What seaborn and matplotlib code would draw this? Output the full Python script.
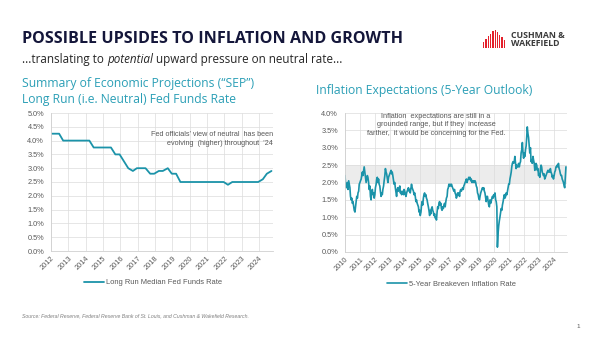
import matplotlib
matplotlib.use("Agg")
import matplotlib.pyplot as plt
from matplotlib.ticker import MultipleLocator, FuncFormatter
from matplotlib.patches import Rectangle
import seaborn as sns
import pandas as pd

# ---------------- data ----------------
sep_dates = ["2012-01-25", "2012-04-25", "2012-06-20", "2012-09-13", "2012-12-12",
             "2013-03-20", "2013-06-19", "2013-09-18", "2013-12-18",
             "2014-03-19", "2014-06-18", "2014-09-17", "2014-12-17",
             "2015-03-18", "2015-06-17", "2015-09-17", "2015-12-16",
             "2016-03-16", "2016-06-15", "2016-09-21", "2016-12-14",
             "2017-03-15", "2017-06-14", "2017-09-20", "2017-12-13",
             "2018-03-21", "2018-06-13", "2018-09-26", "2018-12-19",
             "2019-03-20", "2019-06-19", "2019-09-18", "2019-12-11",
             "2020-06-10", "2020-09-16", "2020-12-16",
             "2021-03-17", "2021-06-16", "2021-09-22", "2021-12-15",
             "2022-03-16", "2022-06-15", "2022-09-21", "2022-12-14",
             "2023-03-22", "2023-06-14", "2023-09-20", "2023-12-13",
             "2024-03-20", "2024-06-12", "2024-09-18"]
sep_values = [4.25, 4.25, 4.25, 4.0, 4.0,
              4.0, 4.0, 4.0, 4.0,
              4.0, 3.75, 3.75, 3.75,
              3.75, 3.75, 3.5, 3.5,
              3.25, 3.0, 2.9, 3.0,
              3.0, 3.0, 2.8, 2.8,
              2.9, 2.9, 3.0, 2.8,
              2.8, 2.5, 2.5, 2.5,
              2.5, 2.5, 2.5,
              2.5, 2.5, 2.5, 2.5,
              2.4, 2.5, 2.5, 2.5,
              2.5, 2.5, 2.5, 2.5,
              2.6, 2.8, 2.9]

# 5-year breakeven inflation rate, semi-monthly readings (1st and 15th)
be_2010 = [2.2, 1.95, 1.85, 1.9, 2.0, 1.8, 2.05, 1.95, 1.85, 1.6, 1.5, 1.55,
           1.4, 1.45, 1.3, 1.2, 1.15, 1.3, 1.45, 1.6, 1.55, 1.7, 1.75, 1.95]
be_2011 = [2.0, 2.05, 2.1, 2.2, 2.3, 2.2, 2.35, 2.45, 2.3, 2.15, 2.0, 2.1,
           2.2, 2.15, 2.0, 1.8, 1.9, 1.6, 1.5, 1.75, 1.8, 1.65, 1.7, 1.55]
be_2012 = [1.65, 1.85, 1.95, 2.1, 2.15, 2.0, 2.1, 1.95, 1.9, 1.75, 1.6, 1.7,
           1.65, 1.8, 1.9, 2.05, 2.2, 2.4, 2.3, 2.25, 2.1, 2.0, 2.15, 2.2]
be_2013 = [2.25, 2.3, 2.35, 2.25, 2.3, 2.2, 2.05, 1.95, 2.0, 1.85, 1.7, 1.6,
           1.8, 1.85, 1.75, 1.8, 1.9, 1.7, 1.75, 1.65, 1.7, 1.75, 1.65, 1.8]
be_2014 = [1.75, 1.65, 1.6, 1.7, 1.75, 1.8, 1.85, 1.75, 1.8, 1.7, 1.85, 1.95,
           1.85, 1.8, 1.75, 1.65, 1.7, 1.6, 1.45, 1.5, 1.4, 1.35, 1.3, 1.15]
be_2015 = [1.2, 1.05, 1.15, 1.35, 1.45, 1.35, 1.55, 1.65, 1.7, 1.6, 1.65, 1.55,
           1.5, 1.4, 1.3, 1.2, 1.05, 1.2, 1.1, 1.25, 1.3, 1.2, 1.15, 1.05]
be_2016 = [1.1, 0.98, 1.0, 0.92, 1.15, 1.3, 1.25, 1.4, 1.45, 1.35, 1.4, 1.25,
           1.2, 1.3, 1.25, 1.35, 1.4, 1.3, 1.45, 1.55, 1.6, 1.8, 1.85, 1.95]
be_2017 = [1.9, 1.95, 1.9, 1.95, 1.9, 1.85, 1.8, 1.75, 1.8, 1.7, 1.65, 1.55,
           1.6, 1.7, 1.65, 1.7, 1.6, 1.75, 1.8, 1.75, 1.8, 1.85, 1.8, 1.9]
be_2018 = [1.95, 2.0, 2.05, 2.1, 2.0, 2.05, 2.1, 2.15, 2.1, 2.15, 2.05, 2.1,
           2.0, 2.05, 2.0, 2.05, 2.0, 2.05, 2.0, 1.9, 1.85, 1.7, 1.65, 1.55]
be_2019 = [1.5, 1.6, 1.7, 1.75, 1.8, 1.85, 1.8, 1.85, 1.75, 1.7, 1.55, 1.45,
           1.6, 1.6, 1.45, 1.35, 1.3, 1.5, 1.4, 1.45, 1.55, 1.6, 1.55, 1.65]
be_2020 = [1.6, 1.7, 1.5, 1.45, 1.3, 0.14, 0.55, 0.75, 0.9, 1.0, 1.15, 1.25,
           1.2, 1.35, 1.45, 1.55, 1.65, 1.55, 1.6, 1.7, 1.65, 1.75, 1.85, 1.95]
be_2021 = [1.95, 2.1, 2.2, 2.3, 2.45, 2.55, 2.6, 2.55, 2.6, 2.75, 2.55, 2.4,
           2.5, 2.45, 2.45, 2.55, 2.45, 2.55, 2.6, 2.85, 2.95, 3.15, 2.85, 2.7]
be_2022 = [2.85, 2.75, 2.95, 3.05, 3.3, 3.6, 3.4, 3.3, 3.05, 2.85, 3.0, 2.6,
           2.65, 2.55, 2.75, 2.65, 2.55, 2.35, 2.4, 2.55, 2.5, 2.35, 2.4, 2.2]
be_2023 = [2.25, 2.15, 2.4, 2.5, 2.45, 2.3, 2.25, 2.2, 2.25, 2.1, 2.15, 2.2,
           2.25, 2.3, 2.35, 2.3, 2.35, 2.3, 2.4, 2.3, 2.25, 2.15, 2.2, 2.1]
be_2024 = [2.2, 2.3, 2.35, 2.45, 2.45, 2.5, 2.45, 2.55, 2.4, 2.35, 2.25, 2.2,
           2.2, 2.1, 2.05, 2.0, 1.9, 1.85, 2.2, 2.45]

left_years = list(range(2012, 2025))
right_years = list(range(2010, 2025))

title = "POSSIBLE UPSIDES TO INFLATION AND GROWTH"
left_title = ["Summary of Economic Projections (\u201cSEP\u201d)",
              "Long Run (i.e. Neutral) Fed Funds Rate"]
right_title = "Inflation Expectations (5-Year Outlook)"
left_note = "Fed officials\u2019 view of neutral  has been\nevolving  (higher) throughout  \u201924"
right_note = ("Inflation  expectations are still in a\n"
              "grounded range, but if they  increase\n"
              "farther,  it would be concerning for the Fed.")
left_series = "Long Run Median Fed Funds Rate"
right_series = "5-Year Breakeven Inflation Rate"
source = "Source: Federal Reserve, Federal Reserve Bank of St. Louis, and Cushman & Wakefield Research."

# ---------------- frames ----------------
sep_df = pd.DataFrame({"date": pd.to_datetime(sep_dates), "value": sep_values,
                       "series": left_series})
be_values = (be_2010 + be_2011 + be_2012 + be_2013 + be_2014 + be_2015 + be_2016 +
             be_2017 + be_2018 + be_2019 + be_2020 + be_2021 + be_2022 + be_2023 + be_2024)
be_df = pd.DataFrame({"date": pd.date_range("2010-01-01", periods=len(be_values), freq="SMS"),
                      "value": be_values, "series": right_series})

# ---------------- style ----------------
sns.set_theme(style="white")
plt.rcParams["font.family"] = ["Liberation Sans", "DejaVu Sans"]

W, H = 600, 338
fig = plt.figure(figsize=(6.0, 3.38), dpi=100)
fig.patch.set_facecolor("white")

def fx(px):
    return px / W

def fy(py):
    return 1 - py / H

TEAL = "#2B9FB6"
LINE = "#1B93A9"
GRAY = "#595959"
GRID = "#dcdcdc"
HEAD = ["Open Sans", "DejaVu Sans"]

# header
fig.text(fx(22), fy(39), title, fontsize=11.6, fontweight="bold", color="#14163A",
         family=HEAD, va="center", ha="left")

renderer = fig.canvas.get_renderer()
parts = [("...translating to ", "normal"), ("potential", "italic"),
         (" upward pressure on neutral rate...", "normal")]
xpos = fx(22)
for s, st in parts:
    t = fig.text(xpos, fy(59), s, fontsize=8.4, style=st, color="#262626",
                 family=HEAD, va="center", ha="left")
    bb = t.get_window_extent(renderer=renderer)
    xpos = xpos + bb.width / (fig.dpi * fig.get_figwidth())

# logo
logo = fig.add_axes([fx(483), fy(48), fx(23), 18 / H])
logo_heights = [0.35, 0.5, 0.65, 0.8, 0.95, 1.0, 0.9, 0.75, 0.6, 0.45]
for i, h in enumerate(logo_heights):
    logo.add_patch(Rectangle((i, 0), 0.6, h, color="#E4202B", lw=0))
logo.set_xlim(0, len(logo_heights))
logo.set_ylim(0, 1)
logo.axis("off")
fig.text(fx(511), fy(35), "CUSHMAN &", fontsize=6.3, fontweight="bold", color="#3a3a3a",
         family=HEAD, va="center", ha="left")
fig.text(fx(511), fy(44), "WAKEFIELD", fontsize=6.3, fontweight="bold", color="#3a3a3a",
         family=HEAD, va="center", ha="left")

# chart titles
fig.text(fx(22), fy(84), left_title[0], fontsize=8.7, color=TEAL,
         family=HEAD, va="center", ha="left")
fig.text(fx(22), fy(99), left_title[1], fontsize=8.7, color=TEAL,
         family=HEAD, va="center", ha="left")
fig.text(fx(316), fy(91), right_title, fontsize=8.7, color=TEAL,
         family=HEAD, va="center", ha="left")

# footer
fig.text(fx(22), fy(316), source, fontsize=3.7, style="italic", color="#7f7f7f",
         va="center", ha="left")
fig.text(fx(578), fy(327), "1", fontsize=4.5, color="#595959", va="center", ha="center")


def style_axis(ax, years, ymax, xlim):
    ax.set_xlim(pd.Timestamp(xlim[0]), pd.Timestamp(xlim[1]))
    ax.set_ylim(0, ymax)
    ax.yaxis.set_major_locator(MultipleLocator(0.5))
    ax.yaxis.set_major_formatter(FuncFormatter(lambda v, p: f"{v:.1f}%"))
    ax.set_xticks([pd.Timestamp(f"{y}-01-01") for y in years])
    ax.set_xticklabels([str(y) for y in years], rotation=45, ha="right",
                       rotation_mode="anchor")
    ax.tick_params(axis="both", length=0, labelsize=5.3, labelcolor=GRAY)
    ax.tick_params(axis="y", pad=5)
    ax.tick_params(axis="x", pad=3)
    ax.grid(True, color=GRID, lw=0.5)
    ax.set_axisbelow(True)
    for side in ["top", "right"]:
        ax.spines[side].set_visible(False)
    for side in ["left", "bottom"]:
        ax.spines[side].set_color("#d0d0d0")
        ax.spines[side].set_linewidth(0.6)
    ax.set_xlabel("")
    ax.set_ylabel("")


def style_legend(ax, xc):
    leg = ax.legend(loc="upper center", bbox_to_anchor=(xc, -0.155), frameon=False,
                    fontsize=5.4, handlelength=2.6, handletextpad=0.3)
    for t in leg.get_texts():
        t.set_color(GRAY)


# left chart
axL = fig.add_axes([fx(51), fy(251), fx(222), (251 - 113) / H])
sns.lineplot(data=sep_df, x="date", y="value", hue="series", palette=[LINE],
             linewidth=1.3, ax=axL)
style_axis(axL, left_years, 5.0, ("2012-01-01", "2024-10-20"))
axL.text(1.0, 0.81, left_note, transform=axL.transAxes, ha="right", va="center",
         fontsize=5.2, color=GRAY, linespacing=1.45)
style_legend(axL, 0.46)

# right chart
axR = fig.add_axes([fx(345), fy(252), fx(222), (252 - 113) / H])
axR.axhspan(2.0, 2.5, color="#ececec", lw=0, zorder=0.5)
sns.lineplot(data=be_df, x="date", y="value", hue="series", palette=[LINE],
             linewidth=1.2, ax=axR)
style_axis(axR, right_years, 4.0, ("2010-01-01", "2024-11-10"))
axR.text(0.41, 0.915, right_note, transform=axR.transAxes, ha="center", va="center",
         fontsize=5.3, color=GRAY, linespacing=1.35)
style_legend(axR, 0.48)

fig.savefig("out.png", dpi=100, facecolor="white")
